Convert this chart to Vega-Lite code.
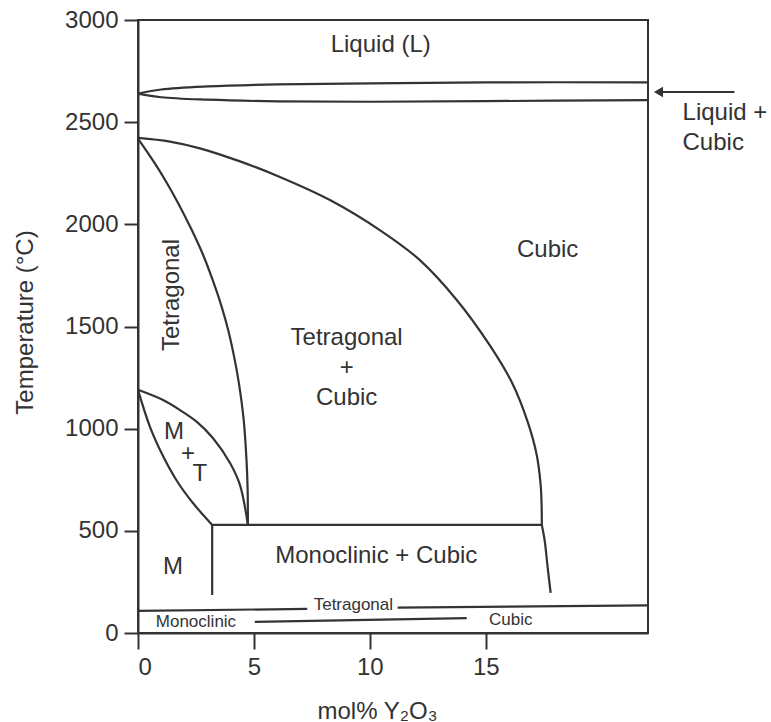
{
  "$schema": "https://vega.github.io/schema/vega-lite/v6.json",
  "autosize": {"type": "none"},
  "padding": {"left": 138, "top": 20, "right": 123, "bottom": 89},
  "width": 510,
  "height": 613,
  "background": "white",
  "config": {
    "view": {"stroke": "#333", "strokeWidth": 2},
    "font": "Liberation Sans",
    "axis": {
      "grid": false,
      "domainColor": "#333",
      "domainWidth": 2,
      "tickColor": "#333",
      "tickWidth": 2,
      "labelColor": "#333",
      "labelFont": "Liberation Sans",
      "labelFontSize": 24,
      "titleFont": "Liberation Sans",
      "titleFontSize": 24,
      "titleFontWeight": "normal",
      "titleColor": "#333"
    }
  },
  "datasets": {
    "lines": [
      {"s": "liq_u", "o": 0, "x": 0, "y": 2640},
      {"s": "liq_u", "o": 1, "x": 1, "y": 2660},
      {"s": "liq_u", "o": 2, "x": 3, "y": 2675},
      {"s": "liq_u", "o": 3, "x": 6, "y": 2685},
      {"s": "liq_u", "o": 4, "x": 10, "y": 2690},
      {"s": "liq_u", "o": 5, "x": 15, "y": 2695},
      {"s": "liq_u", "o": 6, "x": 22, "y": 2695},
      {"s": "liq_l", "o": 0, "x": 0, "y": 2640},
      {"s": "liq_l", "o": 1, "x": 1, "y": 2622},
      {"s": "liq_l", "o": 2, "x": 3, "y": 2610},
      {"s": "liq_l", "o": 3, "x": 6, "y": 2602},
      {"s": "liq_l", "o": 4, "x": 10, "y": 2600},
      {"s": "liq_l", "o": 5, "x": 15, "y": 2603},
      {"s": "liq_l", "o": 6, "x": 22, "y": 2608},
      {"s": "tc", "o": 0, "x": 0, "y": 2423},
      {"s": "tc", "o": 1, "x": 1.38, "y": 2405},
      {"s": "tc", "o": 2, "x": 2.67, "y": 2372},
      {"s": "tc", "o": 3, "x": 4.4, "y": 2308},
      {"s": "tc", "o": 4, "x": 6.12, "y": 2232},
      {"s": "tc", "o": 5, "x": 8.28, "y": 2119},
      {"s": "tc", "o": 6, "x": 10.43, "y": 1972},
      {"s": "tc", "o": 7, "x": 12.16, "y": 1825},
      {"s": "tc", "o": 8, "x": 13.75, "y": 1630},
      {"s": "tc", "o": 9, "x": 15.17, "y": 1409},
      {"s": "tc", "o": 10, "x": 16.12, "y": 1228},
      {"s": "tc", "o": 11, "x": 16.81, "y": 1033},
      {"s": "tc", "o": 12, "x": 17.2, "y": 871},
      {"s": "tc", "o": 13, "x": 17.37, "y": 724},
      {"s": "tc", "o": 14, "x": 17.41, "y": 626},
      {"s": "tc", "o": 15, "x": 17.42, "y": 529},
      {"s": "t", "o": 0, "x": 0, "y": 2420},
      {"s": "t", "o": 1, "x": 0.72, "y": 2300},
      {"s": "t", "o": 2, "x": 1.17, "y": 2217},
      {"s": "t", "o": 3, "x": 1.75, "y": 2100},
      {"s": "t", "o": 4, "x": 2.32, "y": 1972},
      {"s": "t", "o": 5, "x": 2.81, "y": 1850},
      {"s": "t", "o": 6, "x": 3.22, "y": 1728},
      {"s": "t", "o": 7, "x": 3.6, "y": 1600},
      {"s": "t", "o": 8, "x": 3.89, "y": 1483},
      {"s": "t", "o": 9, "x": 4.15, "y": 1350},
      {"s": "t", "o": 10, "x": 4.35, "y": 1224},
      {"s": "t", "o": 11, "x": 4.56, "y": 1042},
      {"s": "t", "o": 12, "x": 4.68, "y": 847},
      {"s": "t", "o": 13, "x": 4.73, "y": 700},
      {"s": "t", "o": 14, "x": 4.74, "y": 529},
      {"s": "mt_u", "o": 0, "x": 0, "y": 1190},
      {"s": "mt_u", "o": 1, "x": 1.08, "y": 1140},
      {"s": "mt_u", "o": 2, "x": 1.81, "y": 1091},
      {"s": "mt_u", "o": 3, "x": 2.54, "y": 1033},
      {"s": "mt_u", "o": 4, "x": 3.23, "y": 954},
      {"s": "mt_u", "o": 5, "x": 3.97, "y": 832},
      {"s": "mt_u", "o": 6, "x": 4.4, "y": 724},
      {"s": "mt_u", "o": 7, "x": 4.74, "y": 529},
      {"s": "mt_l", "o": 0, "x": 0, "y": 1190},
      {"s": "mt_l", "o": 1, "x": 0.52, "y": 1008},
      {"s": "mt_l", "o": 2, "x": 1.08, "y": 866},
      {"s": "mt_l", "o": 3, "x": 1.68, "y": 744},
      {"s": "mt_l", "o": 4, "x": 2.37, "y": 636},
      {"s": "mt_l", "o": 5, "x": 3.2, "y": 529},
      {"s": "rc", "o": 0, "x": 17.42, "y": 529},
      {"s": "rc", "o": 1, "x": 17.54, "y": 455},
      {"s": "rc", "o": 2, "x": 17.67, "y": 323},
      {"s": "rc", "o": 3, "x": 17.8, "y": 196}
    ],
    "straight": [
      {"s": "h", "o": 0, "x": 3.2, "y": 529},
      {"s": "h", "o": 1, "x": 17.42, "y": 529},
      {"s": "v", "o": 0, "x": 3.2, "y": 529},
      {"s": "v", "o": 1, "x": 3.2, "y": 186},
      {"s": "band_l", "o": 0, "x": 0, "y": 108},
      {"s": "band_l", "o": 1, "x": 7.3, "y": 118},
      {"s": "band_r", "o": 0, "x": 11.2, "y": 124},
      {"s": "band_r", "o": 1, "x": 22, "y": 135},
      {"s": "mid", "o": 0, "x": 5.04, "y": 54},
      {"s": "mid", "o": 1, "x": 14.18, "y": 73}
    ],
    "big": [
      {"label": "Liquid (L)", "x": 10.47, "y": 2878},
      {"label": "Cubic", "x": 17.67, "y": 1874},
      {"label": "M", "x": 1.55, "y": 984},
      {"label": "+", "x": 2.16, "y": 876},
      {"label": "T", "x": 2.67, "y": 778},
      {"label": "M", "x": 1.51, "y": 323},
      {"label": "Monoclinic + Cubic", "x": 10.28, "y": 377}
    ],
    "small": [
      {"label": "Tetragonal", "x": 9.29, "y": 137},
      {"label": "Monoclinic", "x": 2.5, "y": 54},
      {"label": "Cubic", "x": 16.08, "y": 64}
    ],
    "rot": [
      {"label": "Tetragonal", "x": 1.45, "y": 1654}
    ],
    "multi_c": [
      {"label": "Tetragonal\n+\nCubic", "x": 9.0, "y": 1409}
    ],
    "multi_l": [
      {"label": "Liquid +\nCubic", "x": 23.49, "y": 2511}
    ],
    "arrow": [
      {"x": 22.45, "x2": 25.73, "y": 2648}
    ]
  },
  "layer": [
    {
      "data": {"name": "lines"},
      "mark": {"type": "line", "interpolate": "catmull-rom", "color": "#333", "strokeWidth": 2.2},
      "encoding": {
        "x": {
          "field": "x", "type": "quantitative",
          "scale": {"domain": [0, 22], "nice": false, "zero": false},
          "axis": {
            "values": [0, 5, 10, 15],
            "tickSize": 16,
            "labelPadding": 6,
            "title": "mol% Y₂O₃",
            "titleX": 239,
            "titleY": 85,
            "titleBaseline": "alphabetic",
            "titleAnchor": null,
            "titleAlign": "center"
          }
        },
        "y": {
          "field": "y", "type": "quantitative",
          "scale": {"domain": [0, 3000], "nice": false},
          "axis": {
            "values": [0, 500, 1000, 1500, 2000, 2500, 3000],
            "format": "d",
            "tickSize": 14,
            "labelPadding": 6,
            "title": "Temperature (°C)",
            "titleX": -106,
            "titleY": 302,
            "titleAngle": 270,
            "titleBaseline": "alphabetic",
            "titleAlign": "center"
          }
        },
        "detail": {"field": "s"},
        "order": {"field": "o"}
      }
    },
    {
      "data": {"name": "straight"},
      "mark": {"type": "line", "interpolate": "linear", "color": "#333", "strokeWidth": 2.2},
      "encoding": {
        "x": {"field": "x", "type": "quantitative"},
        "y": {"field": "y", "type": "quantitative"},
        "detail": {"field": "s"},
        "order": {"field": "o"}
      }
    },
    {
      "data": {"name": "big"},
      "mark": {"type": "text", "fontSize": 24, "font": "Liberation Sans", "color": "#333", "align": "center", "baseline": "middle"},
      "encoding": {
        "x": {"field": "x", "type": "quantitative"},
        "y": {"field": "y", "type": "quantitative"},
        "text": {"field": "label"}
      }
    },
    {
      "data": {"name": "small"},
      "mark": {"type": "text", "fontSize": 17, "font": "Liberation Sans", "color": "#333", "align": "center", "baseline": "middle"},
      "encoding": {
        "x": {"field": "x", "type": "quantitative"},
        "y": {"field": "y", "type": "quantitative"},
        "text": {"field": "label"}
      }
    },
    {
      "data": {"name": "rot"},
      "mark": {"type": "text", "fontSize": 24, "font": "Liberation Sans", "color": "#333", "align": "center", "baseline": "middle", "angle": 270},
      "encoding": {
        "x": {"field": "x", "type": "quantitative"},
        "y": {"field": "y", "type": "quantitative"},
        "text": {"field": "label"}
      }
    },
    {
      "data": {"name": "multi_c"},
      "mark": {"type": "text", "fontSize": 24, "font": "Liberation Sans", "color": "#333", "align": "center", "baseline": "alphabetic", "lineBreak": "\n", "lineHeight": 30},
      "encoding": {
        "x": {"field": "x", "type": "quantitative"},
        "y": {"field": "y", "type": "quantitative"},
        "text": {"field": "label"}
      }
    },
    {
      "data": {"name": "multi_l"},
      "mark": {"type": "text", "fontSize": 24, "font": "Liberation Sans", "color": "#333", "align": "left", "baseline": "alphabetic", "lineBreak": "\n", "lineHeight": 30},
      "encoding": {
        "x": {"field": "x", "type": "quantitative"},
        "y": {"field": "y", "type": "quantitative"},
        "text": {"field": "label"}
      }
    },
    {
      "data": {"name": "arrow"},
      "mark": {"type": "rule", "color": "#333", "strokeWidth": 2},
      "encoding": {
        "x": {"field": "x", "type": "quantitative"},
        "x2": {"field": "x2"},
        "y": {"field": "y", "type": "quantitative"}
      }
    },
    {
      "data": {"name": "arrow"},
      "mark": {"type": "point", "shape": "triangle-left", "filled": true, "color": "#333", "size": 110, "opacity": 1},
      "encoding": {
        "x": {"field": "x", "type": "quantitative"},
        "y": {"field": "y", "type": "quantitative"}
      }
    }
  ]
}
